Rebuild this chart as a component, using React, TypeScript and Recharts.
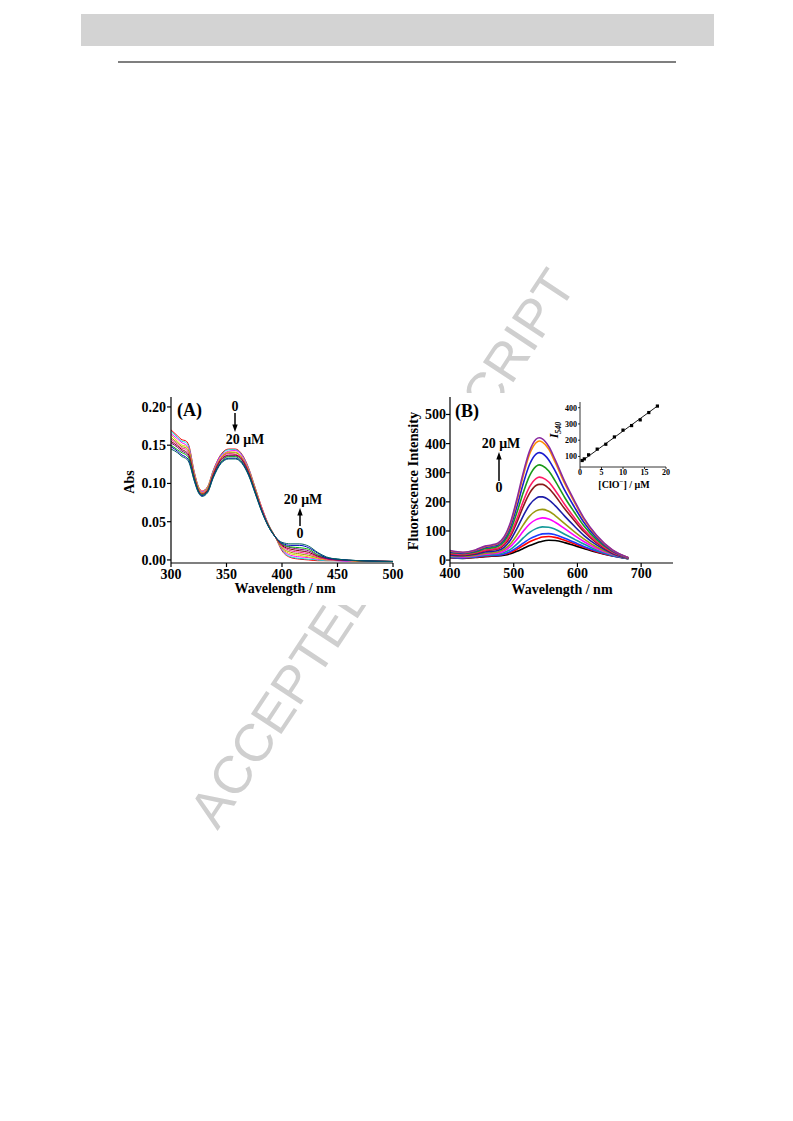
import React from 'react';
import { LineChart, Line, XAxis, YAxis } from 'recharts';

const SERIF = '"Liberation Serif", "Times New Roman", serif';

// ---------- Panel A: absorption ----------
const ABS_WAVELENGTH = [300, 306, 310, 313, 316, 321, 325, 328, 333, 338, 345, 352, 358, 364, 370, 376, 382, 388, 394, 400, 408, 416, 424, 432, 440, 450, 470, 500];
const ABS_00 = [0.170, 0.162, 0.157, 0.156, 0.150, 0.115, 0.095, 0.090, 0.096, 0.117, 0.138, 0.145, 0.145, 0.138, 0.120, 0.094, 0.068, 0.046, 0.030, 0.012, 0.003, 0.001, 0.000, -0.001, -0.001, -0.001, -0.002, -0.002];
const ABS_02 = [0.168, 0.160, 0.155, 0.154, 0.148, 0.114, 0.094, 0.089, 0.095, 0.116, 0.137, 0.144, 0.144, 0.137, 0.119, 0.093, 0.067, 0.046, 0.030, 0.013, 0.004, 0.002, 0.001, 0.000, -0.001, -0.001, -0.002, -0.002];
const ABS_04 = [0.165, 0.158, 0.153, 0.151, 0.146, 0.113, 0.093, 0.089, 0.094, 0.115, 0.136, 0.142, 0.143, 0.136, 0.118, 0.092, 0.067, 0.045, 0.030, 0.014, 0.006, 0.004, 0.003, 0.001, 0.000, -0.001, -0.002, -0.002];
const ABS_06 = [0.163, 0.155, 0.150, 0.149, 0.144, 0.112, 0.093, 0.088, 0.094, 0.114, 0.134, 0.141, 0.141, 0.134, 0.117, 0.092, 0.066, 0.045, 0.030, 0.015, 0.008, 0.006, 0.004, 0.002, 0.000, 0.000, -0.002, -0.002];
const ABS_08 = [0.160, 0.153, 0.148, 0.147, 0.142, 0.110, 0.092, 0.087, 0.093, 0.113, 0.133, 0.140, 0.140, 0.133, 0.116, 0.091, 0.066, 0.045, 0.030, 0.016, 0.010, 0.008, 0.006, 0.003, 0.001, 0.000, -0.001, -0.002];
const ABS_10 = [0.158, 0.151, 0.146, 0.145, 0.139, 0.109, 0.091, 0.087, 0.092, 0.112, 0.132, 0.139, 0.138, 0.132, 0.115, 0.090, 0.065, 0.045, 0.030, 0.018, 0.012, 0.010, 0.008, 0.004, 0.001, 0.000, -0.001, -0.002];
const ABS_12 = [0.155, 0.149, 0.144, 0.142, 0.137, 0.108, 0.090, 0.086, 0.091, 0.111, 0.131, 0.137, 0.137, 0.131, 0.114, 0.089, 0.064, 0.044, 0.030, 0.019, 0.014, 0.012, 0.010, 0.005, 0.002, 0.000, -0.001, -0.002];
const ABS_14 = [0.153, 0.147, 0.142, 0.140, 0.135, 0.107, 0.089, 0.085, 0.090, 0.110, 0.130, 0.136, 0.136, 0.130, 0.113, 0.088, 0.064, 0.044, 0.030, 0.020, 0.016, 0.014, 0.012, 0.006, 0.002, 0.000, -0.001, -0.002];
const ABS_16 = [0.150, 0.144, 0.140, 0.138, 0.133, 0.106, 0.089, 0.085, 0.090, 0.109, 0.128, 0.135, 0.135, 0.128, 0.112, 0.088, 0.063, 0.044, 0.030, 0.021, 0.017, 0.016, 0.014, 0.007, 0.003, 0.001, -0.001, -0.002];
const ABS_18 = [0.148, 0.142, 0.137, 0.135, 0.130, 0.104, 0.088, 0.084, 0.089, 0.108, 0.127, 0.133, 0.133, 0.127, 0.111, 0.087, 0.063, 0.043, 0.030, 0.022, 0.019, 0.019, 0.016, 0.009, 0.003, 0.001, -0.001, -0.002];
const ABS_20 = [0.145, 0.140, 0.135, 0.133, 0.128, 0.103, 0.087, 0.083, 0.088, 0.107, 0.126, 0.132, 0.132, 0.126, 0.110, 0.086, 0.062, 0.043, 0.030, 0.023, 0.021, 0.021, 0.018, 0.010, 0.004, 0.001, -0.001, -0.002];
const ABS_SERIES = [ABS_00, ABS_02, ABS_04, ABS_06, ABS_08, ABS_10, ABS_12, ABS_14, ABS_16, ABS_18, ABS_20];
const ABS_COLORS = ['#ff0000', '#00e0e0', '#ff00ff', '#e0d000', '#9a9a00', '#ff1493', '#800000', '#800080', '#00b000', '#0000c0', '#006060'];
const ABS_X_TICKS = [300, 350, 400, 450, 500];
const ABS_Y_TICKS = [0, 0.05, 0.1, 0.15, 0.2];
const ABS_X_MINOR = [325, 375, 425, 475];
const ABS_Y_MINOR = [0.025, 0.075, 0.125, 0.175];

// ---------- Panel B: fluorescence ----------
const FL_WAVELENGTH = [400, 420, 440, 455, 465, 475, 485, 495, 505, 515, 525, 535, 540, 545, 555, 565, 580, 595, 610, 630, 655, 680];
const FL_00 = [8, 6, 9, 12, 13, 14, 17, 22, 30, 40, 50, 58, 62, 65, 68, 67, 60, 50, 40, 27, 14, 5];
const FL_01 = [9, 7, 10, 13, 15, 16, 20, 26, 37, 50, 63, 72, 76, 79, 81, 78, 68, 56, 44, 29, 15, 5];
const FL_02 = [10, 7, 11, 15, 16, 17, 21, 30, 43, 58, 73, 83, 87, 90, 91, 87, 75, 61, 47, 31, 15, 5];
const FL_03 = [11, 9, 13, 17, 18, 20, 26, 37, 55, 76, 95, 108, 112, 114, 113, 106, 89, 72, 55, 35, 17, 5];
const FL_04 = [13, 11, 15, 20, 22, 24, 31, 47, 71, 99, 124, 139, 143, 145, 141, 130, 108, 85, 64, 40, 19, 6];
const FL_05 = [15, 13, 17, 23, 25, 28, 37, 56, 86, 121, 151, 169, 173, 174, 168, 153, 125, 98, 73, 45, 21, 6];
const FL_06 = [18, 15, 20, 28, 30, 33, 44, 69, 108, 152, 190, 212, 217, 217, 207, 187, 151, 117, 85, 52, 23, 6];
const FL_07 = [21, 18, 23, 32, 35, 38, 52, 82, 130, 184, 230, 256, 260, 260, 246, 221, 176, 136, 98, 59, 26, 7];
const FL_08 = [23, 19, 25, 34, 37, 41, 56, 89, 142, 202, 252, 280, 285, 283, 268, 240, 191, 146, 105, 63, 27, 7];
const FL_09 = [26, 22, 28, 39, 42, 47, 64, 102, 163, 232, 290, 322, 327, 324, 306, 272, 215, 165, 118, 70, 30, 7];
const FL_10 = [29, 24, 31, 43, 47, 52, 71, 115, 184, 263, 329, 364, 369, 366, 344, 306, 240, 183, 130, 77, 32, 8];
const FL_11 = [31, 26, 34, 46, 50, 56, 77, 125, 202, 290, 364, 403, 409, 405, 381, 336, 263, 200, 141, 83, 34, 8];
const FL_12 = [33, 27, 35, 48, 52, 58, 80, 130, 210, 300, 375, 415, 420, 416, 390, 345, 270, 205, 145, 85, 35, 8];
const FL_SERIES = [FL_00, FL_01, FL_02, FL_03, FL_04, FL_05, FL_06, FL_07, FL_08, FL_09, FL_10, FL_11, FL_12];
const FL_COLORS = ['#000000', '#ff0000', '#1c3cff', '#159a9a', '#ff00ff', '#9a9a10', '#1c1ca8', '#8b1a1a', '#ff1a66', '#1a9a1a', '#1c1cd0', '#ff8c00', '#8a2aa0'];
const FL_X_TICKS = [400, 500, 600, 700];
const FL_Y_TICKS = [0, 100, 200, 300, 400, 500];
const FL_X_MINOR = [450, 550, 650];
const FL_Y_MINOR = [50, 150, 250, 350, 450, 550];

// ---------- Inset: I540 vs [ClO-] ----------
const INSET_CONC = [0.5, 1, 2, 4, 6, 8, 10, 12, 14, 16, 18];
const INSET_I540 = [75, 85, 110, 145, 175, 220, 262, 290, 325, 370, 410];
const INSET_FIT_CONC = [0.5, 18];
const INSET_FIT_I540 = [73, 410];
const INSET_X_TICKS = [0, 5, 10, 15, 20];
const INSET_Y_TICKS = [100, 200, 300, 400];

const absRows = ABS_WAVELENGTH.map((w, i) => {
  const r: Record<string, number> = { w };
  ABS_SERIES.forEach((s, k) => { r['s' + k] = s[i]; });
  return r;
});
const flRows = FL_WAVELENGTH.map((w, i) => {
  const r: Record<string, number> = { w };
  FL_SERIES.forEach((s, k) => { r['s' + k] = s[i]; });
  return r;
});
const insetPoints = INSET_CONC.map((x, i) => ({ x, y: INSET_I540[i] }));
const insetFit = INSET_FIT_CONC.map((x, i) => ({ x, y: INSET_FIT_I540[i] }));

const tickStyle = (size: number) => ({ fontFamily: SERIF, fontWeight: 'bold' as const, fontSize: size, fill: '#000' });
const AX = { stroke: '#000', strokeWidth: 1.2 };
const AXS = { stroke: '#000', strokeWidth: 0.8 };

const Square = (props: any) => {
  const { cx, cy } = props;
  if (cx == null || cy == null) return null;
  return <rect x={cx - 1.6} y={cy - 1.6} width={3.2} height={3.2} fill="#000" />;
};

function ChartA() {
  return (
    <LineChart width={280} height={212} data={absRows} margin={{ top: 4, right: 17, bottom: 0, left: 0 }}>
      <XAxis dataKey="w" type="number" domain={[300, 500]} ticks={ABS_X_TICKS} interval={0} height={42}
        tickSize={4} tickMargin={2} tick={tickStyle(14)} axisLine={AX} tickLine={AX} allowDataOverflow />
      <YAxis type="number" domain={[-0.004, 0.213]} ticks={ABS_Y_TICKS} interval={0} width={41}
        tickFormatter={(v: number) => v.toFixed(2)} tickSize={4} tickMargin={1} tick={tickStyle(14)}
        axisLine={AX} tickLine={AX} allowDataOverflow />
      <XAxis xAxisId="top" orientation="top" type="number" domain={[300, 500]} height={0} tick={false} tickLine={false} axisLine={AX} />
      <YAxis yAxisId="right" orientation="right" type="number" domain={[-0.004, 0.213]} width={0} tick={false} tickLine={false} axisLine={AX} />
      <XAxis xAxisId="minor" mirror type="number" domain={[300, 500]} ticks={ABS_X_MINOR} interval={0} height={0} tick={false} tickSize={2.5} tickLine={AX} axisLine={false} />
      <YAxis yAxisId="minorY" mirror type="number" domain={[-0.004, 0.213]} ticks={ABS_Y_MINOR} interval={0} width={0} tick={false} tickSize={2.5} tickLine={AX} axisLine={false} />
      {ABS_SERIES.map((_, k) => (
        <Line key={k} dataKey={'s' + k} type="monotone" stroke={ABS_COLORS[k]} strokeWidth={1} dot={false} isAnimationActive={false} />
      ))}
    </LineChart>
  );
}

function ChartB() {
  return (
    <LineChart width={280} height={222} data={flRows} margin={{ top: 4, right: 12, bottom: 0, left: 0 }}>
      <XAxis dataKey="w" type="number" domain={[400, 750]} ticks={FL_X_TICKS} interval={0} height={52}
        tickSize={4} tickMargin={1} tick={tickStyle(14)} axisLine={AX} tickLine={AX} allowDataOverflow />
      <YAxis type="number" domain={[-10, 560]} ticks={FL_Y_TICKS} interval={0} width={45}
        tickSize={4} tickMargin={0} tick={tickStyle(14)} axisLine={AX} tickLine={AX} allowDataOverflow />
      <XAxis xAxisId="top" orientation="top" type="number" domain={[400, 750]} height={0} tick={false} tickLine={false} axisLine={AX} />
      <YAxis yAxisId="right" orientation="right" type="number" domain={[-10, 560]} width={0} tick={false} tickLine={false} axisLine={AX} />
      <XAxis xAxisId="minor" mirror type="number" domain={[400, 750]} ticks={FL_X_MINOR} interval={0} height={0} tick={false} tickSize={2.5} tickLine={AX} axisLine={false} />
      <YAxis yAxisId="minorY" mirror type="number" domain={[-10, 560]} ticks={FL_Y_MINOR} interval={0} width={0} tick={false} tickSize={2.5} tickLine={AX} axisLine={false} />
      {FL_SERIES.map((_, k) => (
        <Line key={k} dataKey={'s' + k} type="monotone" stroke={FL_COLORS[k]} strokeWidth={1.6} dot={false} isAnimationActive={false} />
      ))}
    </LineChart>
  );
}

function Inset() {
  return (
    <LineChart width={125} height={95} margin={{ top: 7, right: 9, bottom: 0, left: 0 }}>
      <XAxis dataKey="x" type="number" domain={[0, 20]} ticks={INSET_X_TICKS} interval={0} height={23}
        tickSize={2} tickMargin={0} tick={tickStyle(8)} axisLine={AXS} tickLine={AXS} allowDataOverflow />
      <YAxis dataKey="y" type="number" domain={[35, 435]} ticks={INSET_Y_TICKS} interval={0} width={30}
        tickSize={2} tickMargin={1} tick={tickStyle(8)} axisLine={AXS} tickLine={AXS} allowDataOverflow />
      <Line data={insetFit} dataKey="y" type="linear" stroke="#000" strokeWidth={0.9} dot={false} isAnimationActive={false} />
      <Line data={insetPoints} dataKey="y" type="linear" stroke="none" dot={<Square />} activeDot={false} isAnimationActive={false} />
    </LineChart>
  );
}

const T = { fontFamily: SERIF, fontWeight: 'bold' as const, fill: '#000' };

export default function App() {
  return (
    <div style={{ position: 'absolute', left: 0, top: 0, width: 793, height: 1121, background: '#fff', overflow: 'hidden' }}>
      <div style={{ position: 'absolute', left: 81, top: 14, width: 633, height: 32, background: '#d3d3d3' }} />
      <div style={{ position: 'absolute', left: 118, top: 61, width: 558, height: 2, background: '#7f7f7f' }} />
      <svg width={793} height={1121} style={{ position: 'absolute', left: 0, top: 0 }}>
        <text x={382} y={548} transform="rotate(-56.6 382 548)" textAnchor="middle" dominantBaseline="central"
          fontFamily='"Liberation Sans", Arial, sans-serif' fontSize={53} fill="#cfcfcf">ACCEPTED MANUSCRIPT</text>
      </svg>
      <div style={{ position: 'absolute', left: 130, top: 393, width: 280, height: 212, background: '#fff' }}>
        <ChartA />
      </div>
      <div style={{ position: 'absolute', left: 405, top: 393, width: 280, height: 222, background: '#fff' }}>
        <ChartB />
      </div>
      <div style={{ position: 'absolute', left: 550, top: 395, width: 125, height: 95 }}>
        <Inset />
      </div>
      <svg width={793} height={1121} style={{ position: 'absolute', left: 0, top: 0, pointerEvents: 'none' }}>
        {/* Panel A labels */}
        <text x={177} y={416} fontSize={18} {...T}>(A)</text>
        <text x={129} y={482} fontSize={14} textAnchor="middle" dominantBaseline="central" transform="rotate(-90 129 482)" {...T}>Abs</text>
        <text x={285} y={593} fontSize={14} textAnchor="middle" {...T}>Wavelength / nm</text>
        <text x={235} y={411} fontSize={14} textAnchor="middle" {...T}>0</text>
        <line x1={235} y1={413} x2={235} y2={426} stroke="#000" strokeWidth={1.5} />
        <polygon points="235,432 232.3,424.5 237.7,424.5" fill="#000" />
        <text x={245} y={444} fontSize={14} textAnchor="middle" {...T}>20 μM</text>
        <text x={303} y={504} fontSize={14} textAnchor="middle" {...T}>20 μM</text>
        <line x1={300} y1={514} x2={300} y2={526} stroke="#000" strokeWidth={1.5} />
        <polygon points="300,508 297.3,515.5 302.7,515.5" fill="#000" />
        <text x={300} y={538} fontSize={14} textAnchor="middle" {...T}>0</text>
        {/* Panel B labels */}
        <text x={455} y={417} fontSize={18} {...T}>(B)</text>
        <text x={412.5} y={481} fontSize={14.5} textAnchor="middle" dominantBaseline="central" transform="rotate(-90 412.5 481)" {...T}>Fluorescence Intensity</text>
        <text x={562} y={594} fontSize={14} textAnchor="middle" {...T}>Wavelength / nm</text>
        <text x={501} y={448} fontSize={14} textAnchor="middle" {...T}>20 μM</text>
        <line x1={499} y1={458} x2={499} y2={481} stroke="#000" strokeWidth={1.5} />
        <polygon points="499,452 496.3,459.5 501.7,459.5" fill="#000" />
        <text x={499} y={492} fontSize={14} textAnchor="middle" {...T}>0</text>
        {/* Inset labels */}
        <text x={558} y={430} textAnchor="middle" transform="rotate(-90 558 430)" fontStyle="italic" {...T}>
          <tspan fontSize={12}>I</tspan><tspan fontSize={8} dy={3}>540</tspan>
        </text>
        <text x={624} y={488} fontSize={10} textAnchor="middle" {...T}>
          [ClO<tspan fontSize={7} dy={-4}>−</tspan><tspan dy={4}>] / μM</tspan>
        </text>
      </svg>
    </div>
  );
}
